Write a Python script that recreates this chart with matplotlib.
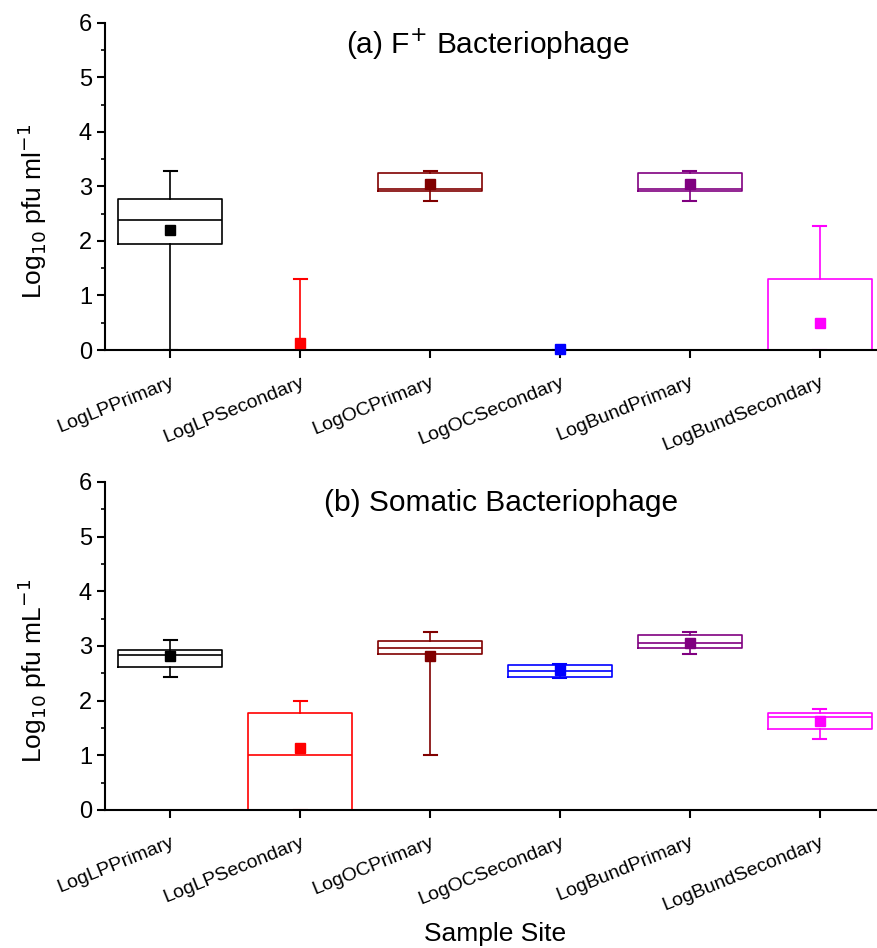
import numpy as np
import matplotlib.pyplot as plt
from matplotlib.ticker import MultipleLocator

plt.rcParams['font.family'] = ['Liberation Sans', 'DejaVu Sans']

sites = ["LogLPPrimary", "LogLPSecondary", "LogOCPrimary",
         "LogOCSecondary", "LogBundPrimary", "LogBundSecondary"]
colors = ["black", "#FF0000", "#800000", "#0000FF", "#800080", "#FF00FF"]

# panel (a) F+ bacteriophage
f_wlo = [0.00, 0.00, 2.74, 0.00, 2.74, 0.00]
f_q1 = [1.95, 0.00, 2.91, 0.00, 2.91, 0.00]
f_med = [2.38, 0.00, 2.96, 0.00, 2.96, 0.00]
f_q3 = [2.77, 0.00, 3.24, 0.00, 3.24, 1.30]
f_whi = [3.29, 1.30, 3.29, 0.00, 3.29, 2.28]
f_mean = [2.20, 0.12, 3.05, 0.02, 3.05, 0.50]

# panel (b) somatic bacteriophage
s_wlo = [2.44, 0.00, 1.00, 2.42, 2.86, 1.30]
s_q1 = [2.62, 0.00, 2.86, 2.43, 2.97, 1.48]
s_med = [2.83, 1.00, 2.97, 2.55, 3.06, 1.70]
s_q3 = [2.93, 1.77, 3.10, 2.66, 3.20, 1.77]
s_whi = [3.11, 2.00, 3.25, 2.67, 3.25, 1.85]
s_mean = [2.82, 1.14, 2.81, 2.56, 3.06, 1.63]


def draw_panel(ax, wlo, q1, med, q3, whi, mean, title, title_x, ylabel):
    stats = []
    for i in range(len(sites)):
        stats.append(dict(whislo=wlo[i], q1=q1[i], med=med[i], q3=q3[i],
                          whishi=whi[i], mean=mean[i], fliers=[], label=sites[i]))
    pos = np.arange(1, len(sites) + 1)
    art = ax.bxp(stats, positions=pos, widths=0.8, capwidths=0.1,
                 showmeans=True, showfliers=False, patch_artist=False)
    for i, c in enumerate(colors):
        art['boxes'][i].set(color=c, linewidth=1.2)
        art['medians'][i].set(color=c, linewidth=1.2)
        for k in (2 * i, 2 * i + 1):
            art['whiskers'][k].set(color=c, linewidth=1.2)
            art['caps'][k].set(color=c, linewidth=1.5)
        art['means'][i].set(marker='s', markerfacecolor=c, markeredgecolor=c,
                            markersize=6.5, clip_on=False, zorder=5)
    ax.set_xlim(0.5, 6.44)
    ax.set_ylim(0, 6)
    ax.yaxis.set_major_locator(MultipleLocator(1))
    ax.yaxis.set_minor_locator(MultipleLocator(0.5))
    ax.spines['top'].set_visible(False)
    ax.spines['right'].set_visible(False)
    for s in ('left', 'bottom'):
        ax.spines[s].set_linewidth(1.5)
    ax.tick_params(axis='both', which='major', direction='out', length=6,
                   width=1.5, labelsize=17)
    ax.tick_params(axis='x', pad=11)
    ax.tick_params(axis='y', which='minor', direction='out', length=3, width=1.2)
    ax.set_xticks(pos)
    ax.set_xticklabels(sites, rotation=22, ha='right', rotation_mode='anchor',
                       fontsize=14)
    ax.set_ylabel(ylabel, fontsize=19)
    ax.yaxis.set_label_coords(-0.073, 0.425)
    ax.text(title_x, 0.935, title, transform=ax.transAxes, ha='center',
            va='center', fontsize=21.5)


fig = plt.figure(figsize=(8.77, 9.48), dpi=100)
ax1 = fig.add_axes([0.12, 0.6308, 0.88, 0.345])
ax2 = fig.add_axes([0.12, 0.1456, 0.88, 0.346])

draw_panel(ax1, f_wlo, f_q1, f_med, f_q3, f_whi, f_mean,
           "(a) F$^{+}$ Bacteriophage", 0.495, "Log$_{10}$ pfu ml$^{-1}$")
draw_panel(ax2, s_wlo, s_q1, s_med, s_q3, s_whi, s_mean,
           "(b) Somatic Bacteriophage", 0.513, "Log$_{10}$ pfu mL$^{-1}$")

fig.text(0.565, 0.007, "Sample Site", ha='center', fontsize=19)

fig.savefig("out.png", dpi=100)
